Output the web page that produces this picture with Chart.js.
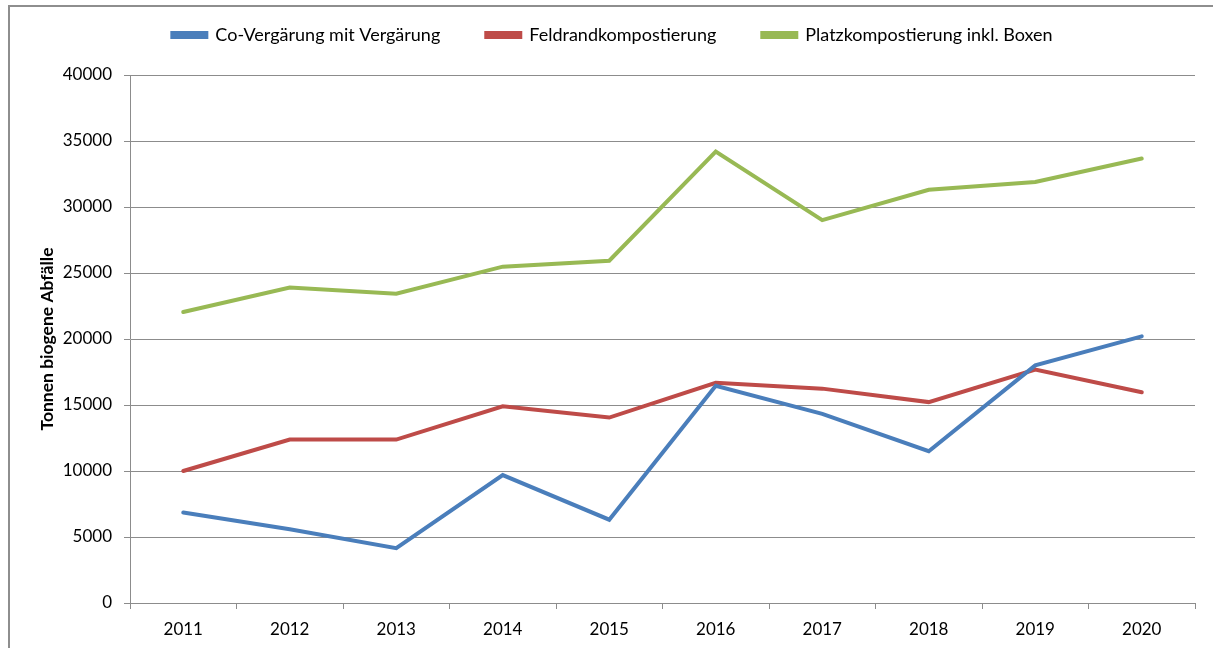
<!DOCTYPE html>
<html>
<head>
<meta charset="utf-8">
<script src="https://cdn.jsdelivr.net/npm/chart.js@4/dist/chart.umd.min.js"></script>
<style>
  html, body { margin: 0; padding: 0; background: #fff; }
  #wrap { width: 1213px; height: 648px; position: relative; }
</style>
</head>
<body>
<div id="wrap"><canvas id="c" width="1213" height="648"></canvas></div>
<script>
const years = ['2011','2012','2013','2014','2015','2016','2017','2018','2019','2020'];
const coVergaerung = [6850, 5580, 4150, 9690, 6310, 16450, 14330, 11500, 18000, 20200];
const feldrand = [10000, 12380, 12380, 14900, 14050, 16680, 16240, 15220, 17680, 15960];
const platz = [22050, 23900, 23430, 25480, 25930, 34200, 29000, 31300, 31900, 33670];
const seriesNames = ['Co-Vergärung mit Vergärung', 'Feldrandkompostierung', 'Platzkompostierung inkl. Boxen'];
const yTitle = 'Tonnen biogene Abfälle';

const FONT = 'Lato, "Liberation Sans", sans-serif';

const framePlugin = {
  id: 'frame',
  beforeInit(chart) {
    const legend = chart.legend;
    if (legend) {
      const origFit = legend.fit;
      legend.fit = function () {
        origFit.call(this);
        this.height = 95;
      };
    }
  },
  afterLayout(chart) {
    const lg = chart.legend;
    if (lg) { lg.left += 5; lg.right += 5; }
  },
  afterDraw(chart) {
    const ctx = chart.ctx;
    ctx.save();
    ctx.strokeStyle = '#8e8e8e';
    ctx.lineWidth = 2;
    ctx.beginPath();
    ctx.moveTo(9, 660);
    ctx.lineTo(9, 6);
    ctx.lineTo(1213, 6);
    ctx.stroke();
    ctx.restore();
  }
};

new Chart(document.getElementById('c'), {
  type: 'line',
  data: {
    labels: years,
    datasets: [
      { label: seriesNames[0], data: coVergaerung, borderColor: '#4a7ebb', backgroundColor: '#4a7ebb' },
      { label: seriesNames[1], data: feldrand, borderColor: '#be4b48', backgroundColor: '#be4b48' },
      { label: seriesNames[2], data: platz, borderColor: '#98b954', backgroundColor: '#98b954' }
    ].map(d => Object.assign(d, { borderWidth: 4, pointRadius: 0, tension: 0, fill: false, borderCapStyle: 'round', borderJoinStyle: 'miter' }))
  },
  options: {
    responsive: false,
    animation: false,
    layout: { padding: { left: 20, right: 18, top: -20, bottom: 0 } },
    plugins: {
      tooltip: { enabled: false },
      legend: {
        position: 'top',
        labels: {
          color: '#000',
          font: { family: FONT, size: 18 },
          boxWidth: 34,
          boxHeight: 4,
          padding: 46
        }
      }
    },
    scales: {
      x: {
        offset: true,
        grid: { offset: true, drawOnChartArea: false, drawTicks: true, tickLength: 6, color: '#8c8c8c' },
        border: { display: true, color: '#8c8c8c', width: 1 },
        ticks: { color: '#000', font: { family: FONT, size: 17 }, padding: 10, maxRotation: 0 },
        afterFit(scale) { scale.height = 45; }
      },
      y: {
        min: 0,
        max: 40000,
        ticks: {
          stepSize: 5000, color: '#000', font: { family: FONT, size: 17 }, padding: 12,
          callback: v => String(v)
        },
        grid: { color: '#8c8c8c', tickLength: 6, lineWidth: 1 },
        border: { display: true, color: '#8c8c8c', width: 1 },
        title: { display: true, text: yTitle, color: '#000', font: { family: FONT, size: 17.5, weight: 'bold' }, padding: { top: 17, bottom: 0 } },
        afterFit(scale) { scale.width = 110; }
      }
    }
  },
  plugins: [framePlugin]
});
</script>
</body>
</html>
